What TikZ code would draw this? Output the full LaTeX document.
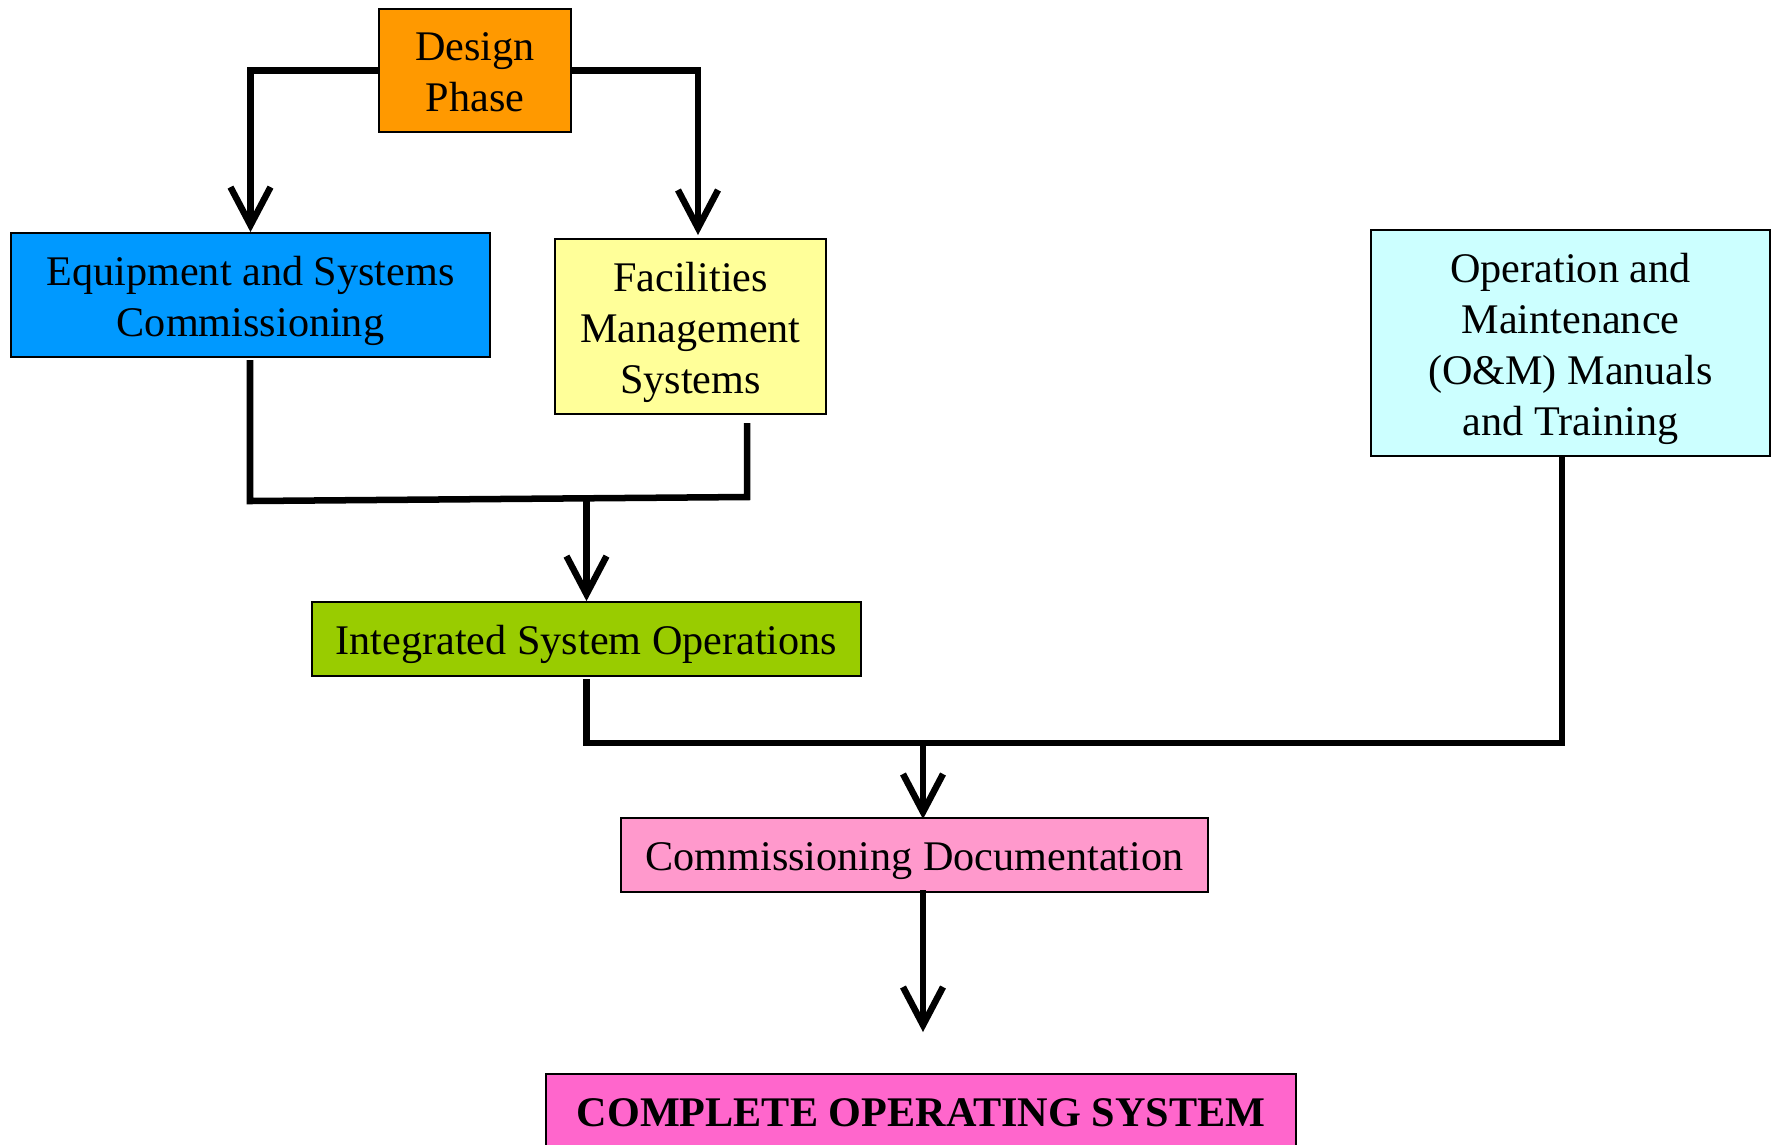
\documentclass[tikz,border=0pt]{standalone}
\usepackage{fontspec}
\setmainfont{Liberation Serif}
\usetikzlibrary{arrows.meta}
\definecolor{cOrange}{HTML}{FF9900}
\definecolor{cBlue}{HTML}{0099FF}
\definecolor{cYellow}{HTML}{FFFF99}
\definecolor{cCyan}{HTML}{CCFFFF}
\definecolor{cGreen}{HTML}{99CC00}
\definecolor{cPink}{HTML}{FF99CC}
\definecolor{cMagenta}{HTML}{FF66CC}
\newcommand{\tptop}{\rule{0pt}{11.6pt}}
\newcommand{\tpbot}{\rule[-2.6pt]{0pt}{2.6pt}}
\newcommand{\tpbotx}{\rule[-3.2pt]{0pt}{3.2pt}}
\begin{document}
\begin{tikzpicture}[x=0.01cm,y=-0.01cm,
  box/.style={draw=black, line width=0.5pt, inner sep=0pt, align=center,
    font=\fontsize{12}{14.5}\selectfont},
  conn/.style={line width=1.85pt, line join=miter},
  arr/.style={conn, -{Straight Barb[length=0.38cm,width=0.4cm,line width=1.85pt]}}]
\useasboundingbox (0,0) rectangle (1775,1144);
\fill[white] (0,0) rectangle (1775,1144);
\node[box, fill=cOrange, minimum width=1.92cm, minimum height=1.23cm] (design) at (475,70.5) {\tptop Design\\Phase\tpbot};
\node[box, fill=cBlue, minimum width=4.79cm, minimum height=1.24cm] (equip) at (250.5,295) {\tptop Equipment and Systems\\Commissioning\tpbot};
\node[box, fill=cYellow, minimum width=2.71cm, minimum height=1.75cm] (fac) at (690.5,326.5) {\tptop Facilities\\Management\\Systems\tpbot};
\node[box, fill=cCyan, minimum width=3.99cm, minimum height=2.26cm] (om) at (1570.5,343) {\tptop Operation and\\Maintenance\\(O\&M) Manuals\\and Training\tpbot};
\node[box, fill=cGreen, minimum width=5.49cm, minimum height=0.74cm] (integ) at (586.5,639) {\tptop Integrated System Operations\tpbot};
\node[box, fill=cPink, minimum width=5.87cm, minimum height=0.74cm] (doc) at (914.5,855) {\tptop Commissioning Documentation\tpbot};
\node[box, fill=cMagenta, minimum width=7.50cm, minimum height=0.76cm, font=\fontsize{12}{14.5}\selectfont\bfseries] (complete) at (921,1112) {\tptop COMPLETE OPERATING SYSTEM\tpbotx};

\coordinate (facTop) at (698,235);
\coordinate (equipOut) at (250,360);
\coordinate (facOut) at (747,423);
\coordinate (j1) at (250,501);
\coordinate (j2) at (747,497);
\coordinate (jm) at (586.5,499);
\coordinate (intOut) at (586.5,679);
\coordinate (k1) at (586.5,743);
\coordinate (k2) at (1562,743);
\coordinate (omOut) at (1562,456);
\coordinate (km) at (923,743);
\coordinate (docIn) at (923,819);
\coordinate (docOut) at (923,890);
\coordinate (endTip) at (923,1032);

\draw[arr] (design.west) -| (equip.north);
\draw[arr] (design.east) -| (facTop);
\draw[conn] (equipOut) -- (j1) -- (j2) -- (facOut);
\draw[arr] (jm) -- (integ.north);
\draw[conn] (intOut) -- (k1) -- (k2) -- (omOut);
\draw[arr] (km) -- (docIn);
\draw[arr] (docOut) -- (endTip);
\end{tikzpicture}
\end{document}
